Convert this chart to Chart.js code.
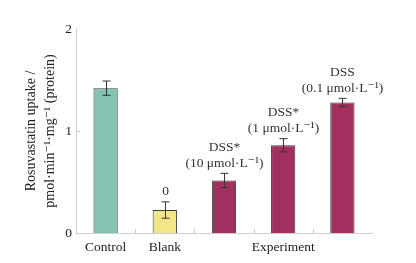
<!DOCTYPE html>
<html>
<head>
<meta charset="utf-8">
<script src="https://cdn.jsdelivr.net/npm/chart.js@4"></script>
<style>
  html, body { margin: 0; padding: 0; background: #fff; }
  #wrap { width: 416px; height: 263px; }
</style>
</head>
<body>
<div id="wrap"><canvas id="uptakeChart" width="416" height="263"></canvas></div>
<script>
// data
const categories = ['Control', 'Blank', '', 'Experiment', ''];
const uptake = [1.42, 0.225, 0.515, 0.86, 1.28];
const uptakeError = [0.07, 0.08, 0.07, 0.065, 0.04];
const barNotes = [[], ['0'], ['DSS*', '(10 μmol·L⁻¹)'], ['DSS*', '(1 μmol·L⁻¹)'], ['DSS', '(0.1 μmol·L⁻¹)']];
const yTicks = [0, 1, 2];

const fills = ['#87c3b3', '#f3e688', '#a2305f', '#a2305f', '#a2305f'];
const serif = '"Liberation Serif", "DejaVu Serif", serif';

// error bars, notes above the bars and the little inward tick marks
const extras = {
    id: 'extras',
    afterDatasetsDraw(chart) {
        const ctx = chart.ctx;
        const x = chart.scales.x;
        const y = chart.scales.y;
        ctx.save();
        ctx.strokeStyle = '#333';
        ctx.lineWidth = 1;
        uptake.forEach((v, i) => {
            const cx = Math.round(x.getPixelForValue(i)) + 0.5;
            const top = y.getPixelForValue(v + uptakeError[i]);
            const bot = y.getPixelForValue(v - uptakeError[i]);
            ctx.beginPath();
            ctx.moveTo(cx, top); ctx.lineTo(cx, bot);
            ctx.moveTo(cx - 4, top); ctx.lineTo(cx + 4, top);
            ctx.moveTo(cx - 4, bot); ctx.lineTo(cx + 4, bot);
            ctx.stroke();

            const lines = barNotes[i];
            ctx.fillStyle = '#333';
            ctx.font = '13.5px ' + serif;
            ctx.textAlign = 'center';
            ctx.textBaseline = 'middle';
            lines.forEach((t, k) => {
                const yy = top - 10 - (lines.length - 1 - k) * 16;
                ctx.fillText(t, cx, yy);
            });
        });

        // small tick marks inside the plot
        ctx.strokeStyle = '#cfcfcf';
        ctx.beginPath();
        for (let i = 0; i < categories.length - 1; i++) {
            const bx = Math.round((x.getPixelForValue(i) + x.getPixelForValue(i + 1)) / 2) + 0.5;
            ctx.moveTo(bx, y.bottom); ctx.lineTo(bx, y.bottom - 4);
        }
        const my = Math.round(y.getPixelForValue(1)) + 0.5;
        ctx.moveTo(x.left, my); ctx.lineTo(x.left + 4, my);
        ctx.stroke();
        ctx.restore();
    }
};

new Chart(document.getElementById('uptakeChart'), {
    type: 'bar',
    data: {
        labels: categories,
        datasets: [{
            data: uptake,
            backgroundColor: fills,
            borderColor: '#3a3a3a',
            borderWidth: 1,
            barPercentage: 0.41,
            categoryPercentage: 1
        }]
    },
    options: {
        responsive: false,
        animation: false,
        layout: { padding: { top: 29, right: 44, left: 22, bottom: 0 } },
        plugins: { legend: { display: false }, tooltip: { enabled: false } },
        scales: {
            x: {
                grid: { display: false, drawTicks: false },
                border: { color: '#cfcfcf' },
                ticks: { color: '#222', font: { family: serif, size: 13.5 }, padding: 6, maxRotation: 0, autoSkip: false },
                afterFit(scale) { scale.height = 30; }
            },
            y: {
                min: 0,
                max: 2,
                grid: { display: false, drawTicks: false },
                border: { color: '#cfcfcf' },
                afterBuildTicks(scale) { scale.ticks = yTicks.map(v => ({ value: v })); },
                ticks: { color: '#222', font: { family: serif, size: 13.5 }, padding: 4 },
                title: {
                    display: true,
                    text: ['Rosuvastatin uptake /', 'pmol·min⁻¹·mg⁻¹ (protein)'],
                    color: '#222',
                    font: { family: serif, size: 14, lineHeight: 1.36 },
                    padding: { top: 0, bottom: 4 }
                },
                afterFit(scale) { scale.width = 54; }
            }
        }
    },
    plugins: [extras]
});
</script>
</body>
</html>
